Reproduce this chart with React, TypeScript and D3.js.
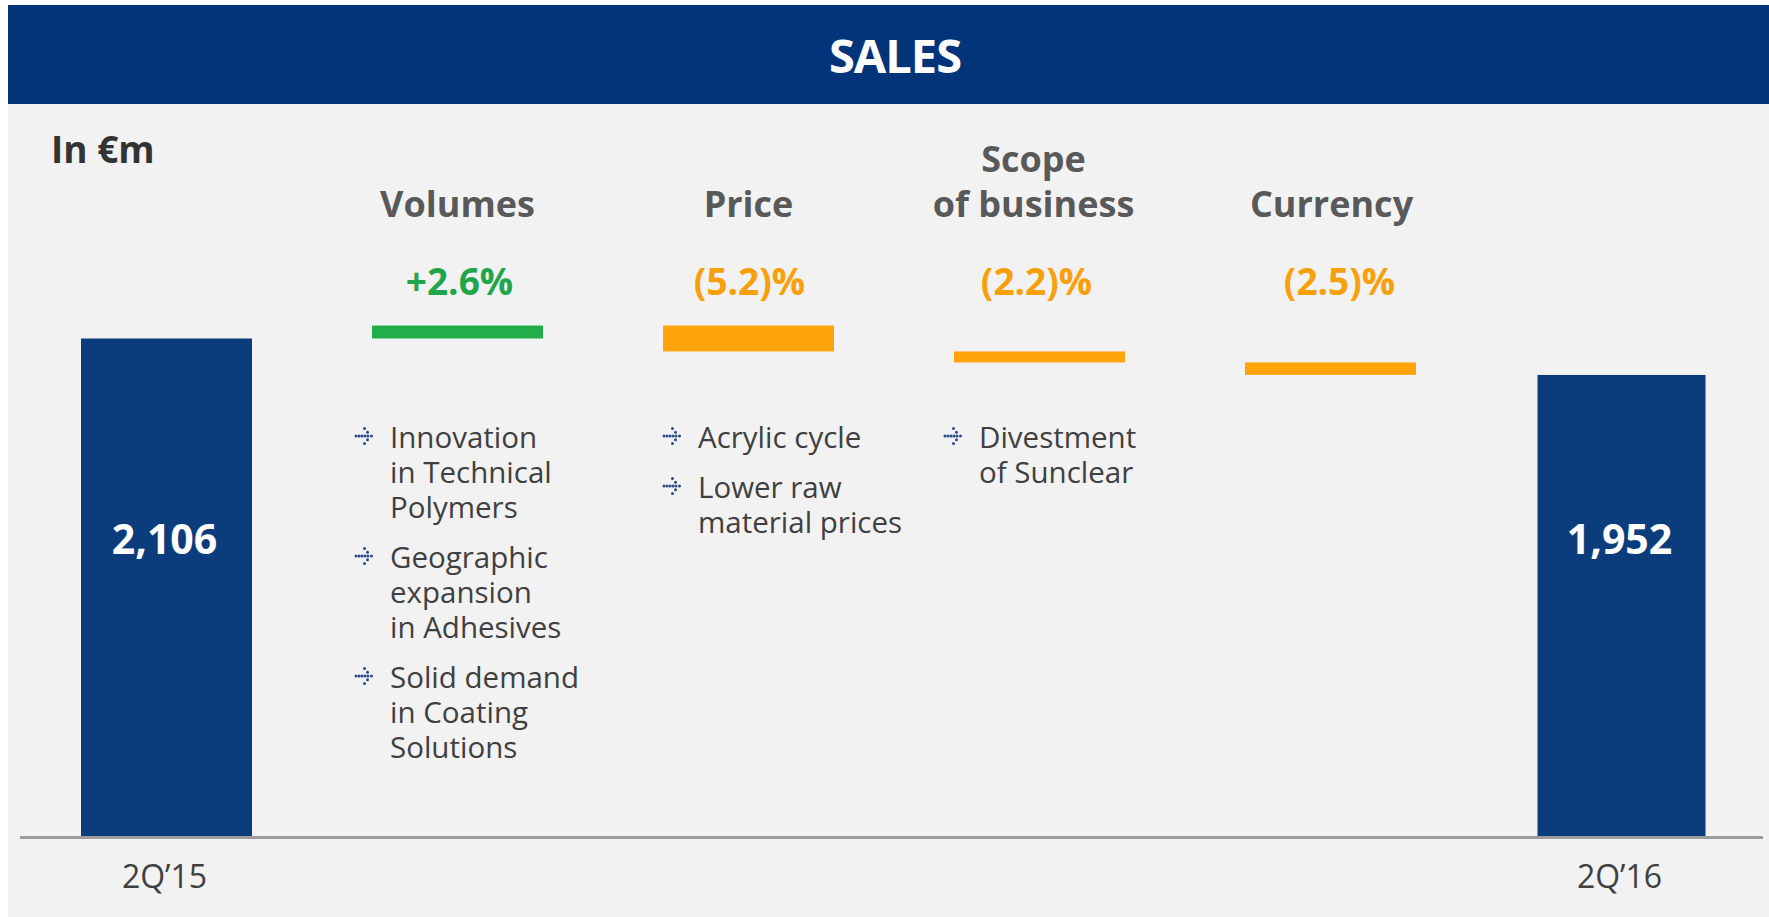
import React from "react";
import * as d3 from "d3";

// ---------- data ----------
const chartTitle = "SALES";
const unitLabel = "In €m";
const periods = ["2Q’15", "2Q’16"];
const startValue = 2106;
const endValue = 1952;
const stepNames = ["Volumes", "Price", "Scope of business", "Currency"];
const stepTitleLines = [["Volumes"], ["Price"], ["Scope", "of business"], ["Currency"]];
const stepPct = [2.6, -5.2, -2.2, -2.5];
const stepPctLabels = ["+2.6%", "(5.2)%", "(2.2)%", "(2.5)%"];
const stepNotes = [
  [["Innovation", "in Technical", "Polymers"], ["Geographic", "expansion", "in Adhesives"], ["Solid demand", "in Coating", "Solutions"]],
  [["Acrylic cycle"], ["Lower raw", "material prices"]],
  [["Divestment", "of Sunclear"]],
  [],
];

// ---------- layout / style ----------
const W = 1769;
const H = 917;
const FONT = "'Open Sans', 'DejaVu Sans', sans-serif";
const HEADER = "#02347a";
const BAR = "#0b3d7d";
const GREEN = "#22ad4b";
const ORANGE = "#ffa30a";
const BG = "#f2f2f2";
const BAR_W = 171;
const noteX = [[364, 390], [672, 698], [953, 979], [0, 0]]; // bullet centre, text x per column
const titleDx = [0, 0, -6, 1];
const pctDx = [2, 1, -3, 9];

const categories = [periods[0], ...stepNames, periods[1]];

function Bullet({ cx, cy }: { cx: number; cy: number }) {
  const dots: [number, number][] = [
    [-8, 0], [-5, 0], [-2, 0], [1, 0], [4, 0], [7.5, 0],
    [0.5, -7.5], [3.5, -3.8], [3.5, 3.8], [0.5, 7.5],
  ];
  return (
    <g>
      {dots.map((d, i) => (
        <circle key={i} cx={cx + d[0]} cy={cy + d[1]} r={1.5} fill="#2b4a8b" />
      ))}
    </g>
  );
}

export default function App() {
  const x = d3.scalePoint<string>().domain(categories).range([166.5, 1621.5]);
  const y = d3.scaleLinear().domain([0, startValue]).range([837, 338.5]);

  // waterfall running totals
  const steps: { name: string; from: number; to: number; pct: number; label: string }[] = [];
  let run = startValue;
  stepNames.forEach((n, i) => {
    const delta = (stepPct[i] / 100) * startValue;
    steps.push({ name: n, from: run, to: run + delta, pct: stepPct[i], label: stepPctLabels[i] });
    run += delta;
  });
  const totals = [
    { name: periods[0], value: startValue, w: BAR_W },
    { name: periods[1], value: endValue, w: 168 },
  ];

  return (
    <div style={{ position: "absolute", left: 0, top: 0, width: W, height: H, background: "#fff" }}>
      <svg width={W} height={H} style={{ display: "block" }} fontFamily={FONT}>
        <rect x={0} y={0} width={W} height={H} fill="#ffffff" />
        <rect x={8} y={104} width={W - 8} height={H - 104} fill={BG} />
        <rect x={8} y={5} width={W - 8} height={99} fill={HEADER} />
        <text x={895} y={73} textAnchor="middle" fill="#fff" fontWeight={700} fontSize={47} letterSpacing={-1}>
          {chartTitle}
        </text>
        <text x={51} y={163} fill="#333333" fontWeight={700} fontSize={37}>
          {unitLabel}
        </text>

        {/* total bars */}
        {totals.map((t) => (
          <g key={t.name}>
            <rect x={x(t.name)! - t.w / 2} y={y(t.value)} width={t.w} height={y(0) - y(t.value)} fill={BAR} />
            <text x={x(t.name)! - 2} y={554} textAnchor="middle" fill="#fff" fontWeight={700} fontSize={41}>
              {d3.format(",")(t.value)}
            </text>
            <text x={x(t.name)! - 2} y={888} textAnchor="middle" fill="#404040" fontSize={32}>
              {t.name}
            </text>
          </g>
        ))}

        {/* step bars */}
        {steps.map((s, i) => {
          const cx = x(s.name)!;
          const col = s.pct >= 0 ? GREEN : ORANGE;
          const top = y(Math.max(s.from, s.to));
          const bot = y(Math.min(s.from, s.to));
          const lines = stepTitleLines[i];
          return (
            <g key={s.name}>
              <rect x={cx - BAR_W / 2} y={top} width={BAR_W} height={bot - top} fill={col} />
              {lines.map((l, j) => (
                <text
                  key={j}
                  x={cx + titleDx[i]}
                  y={217 - (lines.length - 1 - j) * 45}
                  textAnchor="middle"
                  fill="#595959"
                  fontWeight={700}
                  fontSize={36}
                >
                  {l}
                </text>
              ))}
              <text x={cx + pctDx[i]} y={295} textAnchor="middle" fill={s.pct >= 0 ? "#1fa64a" : "#f7a00c"} fontWeight={700} fontSize={37}>
                {s.label}
              </text>
            </g>
          );
        })}

        {/* notes */}
        {stepNotes.map((paras, i) => {
          let base = 448;
          const out: React.ReactNode[] = [];
          paras.forEach((p, k) => {
            out.push(<Bullet key={`b${k}`} cx={noteX[i][0]} cy={base - 12} />);
            p.forEach((line, j) => {
              out.push(
                <text key={`t${k}-${j}`} x={noteX[i][1]} y={base + j * 35} fill="#404040" fontSize={29.5}>
                  {line}
                </text>
              );
            });
            base += (p.length - 1) * 35 + 50;
          });
          return <g key={i}>{out}</g>;
        })}

        {/* baseline */}
        <line x1={20} x2={1763} y1={837.5} y2={837.5} stroke="#9c9c9c" strokeWidth={3} />
      </svg>
    </div>
  );
}
